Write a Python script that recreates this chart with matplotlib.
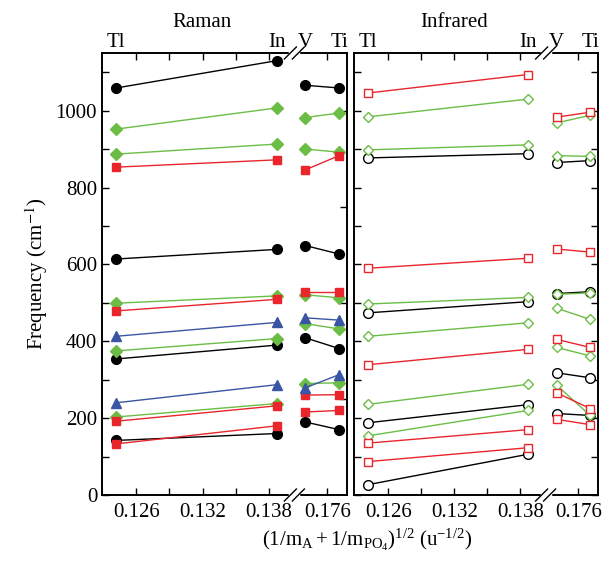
import numpy as np
import matplotlib
matplotlib.use("Agg")
import matplotlib.pyplot as plt
from matplotlib.ticker import FixedLocator, MultipleLocator, NullFormatter

plt.rcParams["font.family"] = ["Liberation Serif", "DejaVu Serif"]
plt.rcParams["mathtext.fontset"] = "stix"

# (1/m_A + 1/m_PO4)^1/2 for each cation
ELEMENTS = ["Tl", "In", "V", "Ti"]
X_POS = [0.12419, 0.13870, 0.17367, 0.17726]

# Raman (filled markers): Tl-In pairs and V-Ti pairs
RAMAN_BLACK_TL = [1059, 614, 354, 142]
RAMAN_BLACK_IN = [1130, 639, 390, 160]
RAMAN_BLACK_V = [1066, 649, 409, 190]
RAMAN_BLACK_TI = [1059, 627, 381, 170]

RAMAN_GREEN_TL = [952, 887, 499, 375, 203]
RAMAN_GREEN_IN = [1007, 913, 518, 407, 238]
RAMAN_GREEN_V = [982, 900, 521, 446, 290]
RAMAN_GREEN_TI = [994, 892, 513, 432, 292]

RAMAN_RED_TL = [853, 479, 192, 133]
RAMAN_RED_IN = [872, 509, 232, 180]
RAMAN_RED_V = [846, 527, 260, 216]
RAMAN_RED_TI = [883, 527, 261, 220]

RAMAN_BLUE_TL = [413, 240]
RAMAN_BLUE_IN = [449, 287]
RAMAN_BLUE_V = [461, 279]
RAMAN_BLUE_TI = [455, 313]

# Infrared (open markers)
IR_RED_TL = [1046, 590, 339, 135, 87]
IR_RED_IN = [1094, 616, 379, 170, 123]
IR_RED_V = [983, 640, 405, 266, 197]
IR_RED_TI = [996, 632, 384, 225, 183]

IR_GREEN_TL = [984, 898, 497, 413, 236, 154]
IR_GREEN_IN = [1030, 911, 514, 448, 288, 220]
IR_GREEN_V = [968, 883, 522, 486, 384, 286]
IR_GREEN_TI = [988, 881, 526, 457, 362, 207]

IR_BLACK_TL = [877, 474, 188, 27]
IR_BLACK_IN = [888, 503, 235, 106]
IR_BLACK_V = [865, 524, 318, 212]
IR_BLACK_TI = [870, 529, 305, 207]

RED = "#e8262c"
GREEN = "#6cbd45"
BLUE = "#3a55a4"
BLACK = "black"

# broken x axis: left piece [XMIN, BL], right piece [BR, XMAX] squeezed by K
XMIN, BL, BR, XMAX, K = 0.1229, 0.1403, 0.1725, 0.1781, 0.85


def fwd(x):
    x = np.asarray(x, dtype=float)
    return np.where(x <= BL, x, np.where(x >= BR, BL + (x - BR) * K, BL))


def inv(t):
    t = np.asarray(t, dtype=float)
    return np.where(t <= BL, t, BR + (t - BL) / K)


def series(ax, tl, inn, v, ti, color, marker, ms, filled):
    mfc = color if filled else "white"
    kw = dict(color=color, marker=marker, ms=ms, mfc=mfc, mec=color, mew=1.0, lw=1.0)
    for a, b in zip(tl, inn):
        ax.plot([X_POS[0], X_POS[1]], [a, b], **kw)
    for a, b in zip(v, ti):
        ax.plot([X_POS[2], X_POS[3]], [a, b], **kw)


def setup(ax, title):
    ax.set_xscale("function", functions=(fwd, inv))
    ax.set_xlim(XMIN, XMAX)
    ax.set_ylim(0, 1150)
    ax.xaxis.set_major_locator(FixedLocator([0.126, 0.132, 0.138, 0.176]))
    ax.xaxis.set_minor_locator(FixedLocator([0.129, 0.135]))
    ax.set_xticklabels(["0.126", "0.132", "0.138", "0.176"])
    ax.xaxis.set_minor_formatter(NullFormatter())
    ax.tick_params(which="both", direction="in", top=True, length=5, width=1,
                   labelsize=15)
    ax.tick_params(axis="x", pad=6)
    for s in ax.spines.values():
        s.set_linewidth(1.4)
    tr = ax.get_xaxis_transform()
    for name, x in zip(ELEMENTS, X_POS):
        ax.text(x, 1.014, name, transform=tr, ha="center", va="baseline", fontsize=15)
    ax.text(0.41, 1.059, title, transform=ax.transAxes, ha="center", va="baseline",
            fontsize=15)
    # break marks
    fig.canvas.draw()
    xb = (fwd(BL) - XMIN) / (fwd(XMAX) - XMIN)
    bbox = ax.get_window_extent()
    px = 1.0 / bbox.width
    py = 1.0 / bbox.height
    for y0 in (0, 1):
        ax.plot([xb - 4 * px, xb + 4 * px], [y0, y0], color="white", lw=2.5,
                transform=ax.transAxes, clip_on=False, zorder=5)
        for off in (-4, 4):
            ax.plot([xb + (off - 6) * px, xb + (off + 6) * px],
                    [y0 - 6 * py, y0 + 6 * py], color="black", lw=1.0,
                    transform=ax.transAxes, clip_on=False, zorder=6)


fig = plt.figure(figsize=(6.16, 5.62), dpi=100)
ax1 = fig.add_axes([0.1656, 0.1192, 0.3977, 0.7865])
ax2 = fig.add_axes([0.5747, 0.1192, 0.3961, 0.7865])

series(ax1, RAMAN_BLACK_TL, RAMAN_BLACK_IN, RAMAN_BLACK_V, RAMAN_BLACK_TI, BLACK, "o", 7, True)
series(ax1, RAMAN_GREEN_TL, RAMAN_GREEN_IN, RAMAN_GREEN_V, RAMAN_GREEN_TI, GREEN, "D", 5.8, True)
series(ax1, RAMAN_RED_TL, RAMAN_RED_IN, RAMAN_RED_V, RAMAN_RED_TI, RED, "s", 6, True)
series(ax1, RAMAN_BLUE_TL, RAMAN_BLUE_IN, RAMAN_BLUE_V, RAMAN_BLUE_TI, BLUE, "^", 7, True)

series(ax2, IR_BLACK_TL, IR_BLACK_IN, IR_BLACK_V, IR_BLACK_TI, BLACK, "o", 7, False)
series(ax2, IR_GREEN_TL, IR_GREEN_IN, IR_GREEN_V, IR_GREEN_TI, GREEN, "D", 5.5, False)
series(ax2, IR_RED_TL, IR_RED_IN, IR_RED_V, IR_RED_TI, RED, "s", 6, False)

setup(ax1, "Raman")
setup(ax2, "Infrared")

ax1.yaxis.set_major_locator(MultipleLocator(200))
ax1.yaxis.set_minor_locator(MultipleLocator(100))
ax1.tick_params(axis="y", which="both", right=False)
sec = ax1.secondary_yaxis("right")
sec.set_yticks([250, 500, 750, 1000])
sec.tick_params(direction="in", length=5, width=1, labelright=False)
sec.spines["right"].set_visible(False)
ax1.set_ylabel("Frequency (cm$^{-1}$)", fontsize=15, labelpad=4)

ax2.yaxis.set_major_locator(MultipleLocator(100))
ax2.tick_params(axis="y", right=True, labelleft=False)

fig.text(0.596, 0.04,
         r"$\mathregular{(1/m_A + 1/m_{PO_4})^{1/2}\ (u^{-1/2})}$",
         ha="center", va="center", fontsize=15)

fig.savefig("out.png", dpi=100)
